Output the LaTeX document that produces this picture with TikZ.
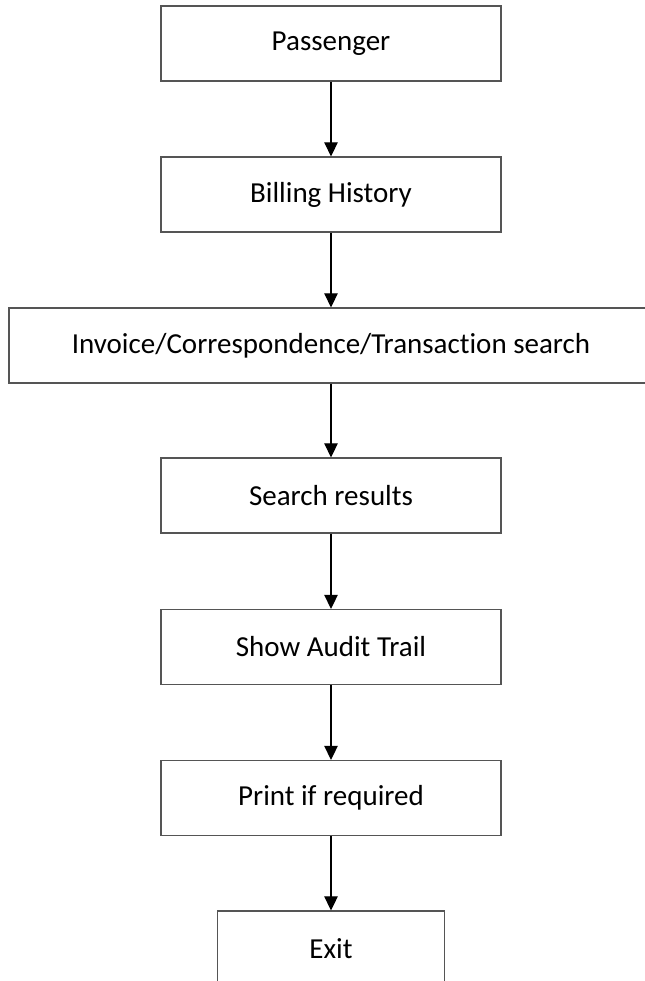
\documentclass[tikz,border=0pt]{standalone}
\usepackage{fontspec}
\setmainfont{Carlito}[Ligatures=NoCommon]
\usepackage{tikz}
\usetikzlibrary{positioning, arrows.meta}
\definecolor{fLine}{HTML}{555555}
\definecolor{fInk}{HTML}{000000}

\begin{document}
\begin{tikzpicture}[x=0.5pt, y=-0.5pt, >={Triangle[length=7pt, width=6.8pt]},
          stepbox/.style={draw=fLine, line width=0.7pt, fill=white, text=fInk,
            font=\fontsize{14.5}{17}\selectfont, minimum width=170pt, minimum height=37.5pt,
            inner sep=0pt},
          widebox/.style={stepbox, minimum width=322pt},
          exitbox/.style={stepbox, minimum width=113.5pt}]
        \useasboundingbox (0,0) rectangle (644,981);
        \node[stepbox] (pass) at (331,43.5) {Passenger};
        \node[stepbox] (bill) at (331,194.5) {Billing History};
        \node[widebox] (inv) at (331,345.5) {Invoice/Correspondence/Transaction search};
        \node[stepbox] (res) at (331,495.5) {Search results};
        \node[stepbox] (audit) at (331,647) {Show Audit Trail};
        \node[stepbox] (print) at (331,798) {Print if required};
        \node[exitbox] (exit) at (331,948.5) {Exit};
        \draw[->, line width=0.6pt, fInk] (pass) -- (bill);
        \draw[->, line width=0.6pt, fInk] (bill) -- (inv);
        \draw[->, line width=0.6pt, fInk] (inv) -- (res);
        \draw[->, line width=0.6pt, fInk] (res) -- (audit);
        \draw[->, line width=0.6pt, fInk] (audit) -- (print);
        \draw[->, line width=0.6pt, fInk] (print) -- (exit);
      \end{tikzpicture}
\end{document}
